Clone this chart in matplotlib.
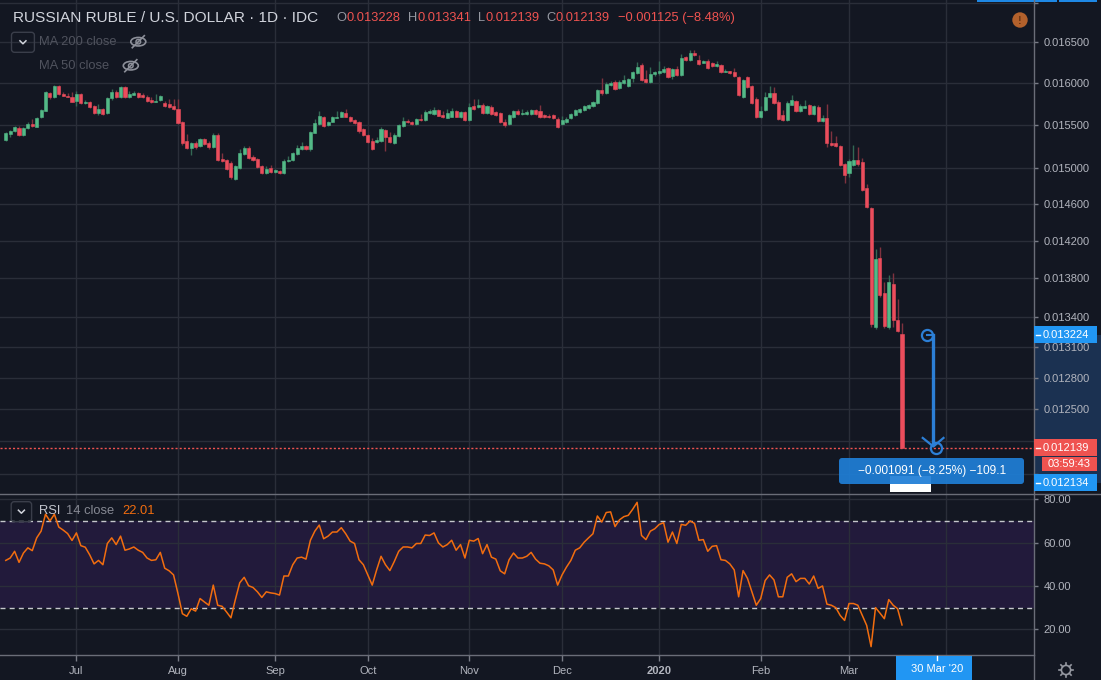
import matplotlib
matplotlib.use('Agg')
import matplotlib.pyplot as plt
from matplotlib.patches import Rectangle, FancyBboxPatch, Circle, Ellipse
from matplotlib.ticker import NullLocator, NullFormatter
import numpy as np
import pandas as pd

plt.rcParams['font.family'] = ['Liberation Sans', 'DejaVu Sans']

# daily bars, USD per RUB
dates = pd.bdate_range('2019-06-07', '2020-03-18')

opens = [0.015324, 0.015394, 0.015428, 0.015460, 0.015382, 0.015460, 0.015510, 0.015479, 0.015589, 0.015668,
         0.015882, 0.015835, 0.015964, 0.015867, 0.015846, 0.015835, 0.015787, 0.015867, 0.015763, 0.015771,
         0.015724, 0.015637, 0.015684, 0.015644, 0.015815, 0.015895, 0.015835, 0.015948, 0.015835, 0.015858,
         0.015882, 0.015858, 0.015835, 0.015795, 0.015775, 0.015795, 0.015756, 0.015748, 0.015724, 0.015684,
         0.015537, 0.015316, 0.015235, 0.015293, 0.015258, 0.015339, 0.015293, 0.015247, 0.015382, 0.015108,
         0.015093, 0.015063, 0.014882, 0.015000, 0.015162, 0.015235, 0.015124, 0.015108, 0.015025, 0.014943,
         0.015006, 0.014961, 0.014969, 0.014943, 0.015082, 0.015093, 0.015162, 0.015220, 0.015254, 0.015216,
         0.015409, 0.015510, 0.015597, 0.015498, 0.015537, 0.015585, 0.015597, 0.015644, 0.015597, 0.015557,
         0.015534, 0.015448, 0.015382, 0.015312, 0.015304, 0.015316, 0.015440, 0.015355, 0.015293, 0.015370,
         0.015487, 0.015545, 0.015534, 0.015514, 0.015573, 0.015561, 0.015637, 0.015629, 0.015676, 0.015617,
         0.015585, 0.015597, 0.015664, 0.015593, 0.015652, 0.015557, 0.015724, 0.015712, 0.015736, 0.015640,
         0.015712, 0.015652, 0.015640, 0.015534, 0.015514, 0.015597, 0.015668, 0.015633, 0.015633, 0.015633,
         0.015676, 0.015668, 0.015617, 0.015605, 0.015617, 0.015569, 0.015514, 0.015534, 0.015581, 0.015617,
         0.015652, 0.015676, 0.015700, 0.015724, 0.015759, 0.015915, 0.015879, 0.015976, 0.016012, 0.015940,
         0.016000, 0.015964, 0.016060, 0.016121, 0.016219, 0.016048, 0.016015, 0.016104, 0.016117, 0.016133,
         0.016178, 0.016085, 0.016166, 0.016101, 0.016317, 0.016284, 0.016371, 0.016280, 0.016248, 0.016268,
         0.016243, 0.016211, 0.016219, 0.016138, 0.016146, 0.016134, 0.016073, 0.015835, 0.016073, 0.015964,
         0.015807, 0.015597, 0.015676, 0.015835, 0.015879, 0.015771, 0.015617, 0.015557, 0.015739, 0.015783,
         0.015664, 0.015704, 0.015736, 0.015629, 0.015712, 0.015545, 0.015581, 0.015289, 0.015289, 0.015254,
         0.015047, 0.014950, 0.015036, 0.015093, 0.015070, 0.014778, 0.014555, 0.013301, 0.014014, 0.013648,
         0.013301, 0.013741, 0.013372, 0.013228]
highs = [0.015417, 0.015440, 0.015490, 0.015490, 0.015470, 0.015537, 0.015565, 0.015590, 0.015690, 0.015900,
         0.015890, 0.015980, 0.015980, 0.015895, 0.015875, 0.015887, 0.015907, 0.015880, 0.015790, 0.015780,
         0.015730, 0.015744, 0.015700, 0.015830, 0.015924, 0.015910, 0.015960, 0.015960, 0.015907, 0.015907,
         0.015890, 0.015882, 0.015850, 0.015835, 0.015867, 0.015860, 0.015787, 0.015803, 0.015803, 0.015803,
         0.015550, 0.015394, 0.015300, 0.015310, 0.015350, 0.015350, 0.015310, 0.015409, 0.015400, 0.015170,
         0.015100, 0.015080, 0.015040, 0.015216, 0.015254, 0.015250, 0.015150, 0.015120, 0.015040, 0.015025,
         0.015036, 0.014990, 0.014980, 0.015100, 0.015142, 0.015190, 0.015266, 0.015301, 0.015270, 0.015430,
         0.015565, 0.015664, 0.015610, 0.015550, 0.015600, 0.015668, 0.015660, 0.015684, 0.015610, 0.015570,
         0.015540, 0.015463, 0.015390, 0.015344, 0.015355, 0.015471, 0.015450, 0.015413, 0.015400, 0.015510,
         0.015589, 0.015565, 0.015540, 0.015580, 0.015629, 0.015670, 0.015684, 0.015708, 0.015690, 0.015664,
         0.015684, 0.015696, 0.015680, 0.015660, 0.015660, 0.015756, 0.015803, 0.015803, 0.015756, 0.015740,
         0.015730, 0.015668, 0.015650, 0.015565, 0.015630, 0.015680, 0.015684, 0.015684, 0.015670, 0.015690,
         0.015690, 0.015736, 0.015630, 0.015629, 0.015630, 0.015597, 0.015605, 0.015590, 0.015640, 0.015690,
         0.015704, 0.015740, 0.015748, 0.015780, 0.015930, 0.016060, 0.016015, 0.016020, 0.016030, 0.016030,
         0.016097, 0.016060, 0.016150, 0.016256, 0.016240, 0.016158, 0.016198, 0.016140, 0.016268, 0.016207,
         0.016190, 0.016180, 0.016207, 0.016355, 0.016330, 0.016404, 0.016404, 0.016347, 0.016280, 0.016292,
         0.016260, 0.016268, 0.016230, 0.016174, 0.016150, 0.016182, 0.016090, 0.016050, 0.016090, 0.015980,
         0.015835, 0.015724, 0.015891, 0.015964, 0.015948, 0.015795, 0.015676, 0.015783, 0.015855, 0.015800,
         0.015748, 0.015795, 0.015750, 0.015740, 0.015730, 0.015617, 0.015748, 0.015428, 0.015370, 0.015270,
         0.015060, 0.015100, 0.015266, 0.015239, 0.015112, 0.014822, 0.014570, 0.014110, 0.014131, 0.013762,
         0.013836, 0.013857, 0.013586, 0.013341]
lows = [0.015312, 0.015355, 0.015420, 0.015370, 0.015370, 0.015450, 0.015480, 0.015470, 0.015580, 0.015660,
        0.015803, 0.015820, 0.015850, 0.015840, 0.015830, 0.015770, 0.015724, 0.015750, 0.015750, 0.015700,
        0.015630, 0.015620, 0.015620, 0.015630, 0.015800, 0.015820, 0.015820, 0.015820, 0.015820, 0.015850,
        0.015820, 0.015820, 0.015770, 0.015760, 0.015770, 0.015780, 0.015710, 0.015700, 0.015680, 0.015510,
        0.015270, 0.015220, 0.015150, 0.015220, 0.015240, 0.015260, 0.015220, 0.015230, 0.015080, 0.015070,
        0.014980, 0.014880, 0.014870, 0.014990, 0.015150, 0.015100, 0.015080, 0.015000, 0.014930, 0.014930,
        0.014950, 0.014950, 0.014930, 0.014930, 0.015070, 0.015080, 0.015150, 0.015210, 0.015210, 0.015200,
        0.015400, 0.015500, 0.015480, 0.015490, 0.015530, 0.015580, 0.015590, 0.015590, 0.015530, 0.015510,
        0.015410, 0.015370, 0.015290, 0.015210, 0.015290, 0.015300, 0.015197, 0.015290, 0.015280, 0.015360,
        0.015470, 0.015520, 0.015500, 0.015500, 0.015550, 0.015550, 0.015630, 0.015620, 0.015600, 0.015580,
        0.015580, 0.015590, 0.015590, 0.015580, 0.015550, 0.015550, 0.015680, 0.015700, 0.015630, 0.015630,
        0.015620, 0.015610, 0.015520, 0.015480, 0.015500, 0.015580, 0.015620, 0.015620, 0.015620, 0.015620,
        0.015620, 0.015580, 0.015580, 0.015580, 0.015570, 0.015460, 0.015500, 0.015520, 0.015570, 0.015610,
        0.015640, 0.015660, 0.015690, 0.015710, 0.015750, 0.015860, 0.015870, 0.015960, 0.015910, 0.015930,
        0.015990, 0.015950, 0.016015, 0.016110, 0.016020, 0.016000, 0.016000, 0.016090, 0.016100, 0.016120,
        0.016060, 0.016052, 0.016090, 0.016090, 0.016270, 0.016270, 0.016330, 0.016220, 0.016240, 0.016170,
        0.016190, 0.016200, 0.016120, 0.016130, 0.016110, 0.016070, 0.015840, 0.015820, 0.015940, 0.015750,
        0.015580, 0.015580, 0.015660, 0.015820, 0.015750, 0.015560, 0.015540, 0.015540, 0.015730, 0.015650,
        0.015652, 0.015700, 0.015620, 0.015620, 0.015530, 0.015534, 0.015247, 0.015250, 0.015240, 0.015020,
        0.014837, 0.014905, 0.015020, 0.015030, 0.014740, 0.014550, 0.013300, 0.013280, 0.013610, 0.013291,
        0.013280, 0.013301, 0.013250, 0.012139]
closes = [0.015401, 0.015428, 0.015479, 0.015382, 0.015460, 0.015510, 0.015490, 0.015577, 0.015676, 0.015887,
          0.015835, 0.015964, 0.015867, 0.015846, 0.015835, 0.015775, 0.015867, 0.015763, 0.015775, 0.015716,
          0.015644, 0.015688, 0.015629, 0.015819, 0.015895, 0.015835, 0.015948, 0.015835, 0.015867, 0.015882,
          0.015835, 0.015835, 0.015787, 0.015775, 0.015787, 0.015843, 0.015728, 0.015716, 0.015692, 0.015526,
          0.015286, 0.015235, 0.015286, 0.015239, 0.015339, 0.015278, 0.015239, 0.015386, 0.015093, 0.015085,
          0.014995, 0.014897, 0.015025, 0.015177, 0.015235, 0.015116, 0.015093, 0.015017, 0.014943, 0.014995,
          0.014961, 0.014980, 0.014943, 0.015085, 0.015093, 0.015177, 0.015235, 0.015254, 0.015220, 0.015417,
          0.015526, 0.015605, 0.015490, 0.015537, 0.015589, 0.015597, 0.015649, 0.015597, 0.015545, 0.015526,
          0.015428, 0.015382, 0.015304, 0.015220, 0.015324, 0.015452, 0.015362, 0.015304, 0.015382, 0.015498,
          0.015549, 0.015534, 0.015514, 0.015569, 0.015561, 0.015656, 0.015660, 0.015676, 0.015608, 0.015593,
          0.015644, 0.015668, 0.015597, 0.015652, 0.015557, 0.015716, 0.015688, 0.015736, 0.015640, 0.015724,
          0.015629, 0.015621, 0.015537, 0.015498, 0.015617, 0.015668, 0.015633, 0.015640, 0.015656, 0.015676,
          0.015629, 0.015593, 0.015593, 0.015593, 0.015581, 0.015475, 0.015557, 0.015573, 0.015629, 0.015676,
          0.015684, 0.015724, 0.015736, 0.015771, 0.015915, 0.015875, 0.015991, 0.016003, 0.015927, 0.016015,
          0.016036, 0.016044, 0.016133, 0.016194, 0.016036, 0.016015, 0.016109, 0.016129, 0.016146, 0.016170,
          0.016073, 0.016166, 0.016101, 0.016305, 0.016280, 0.016363, 0.016343, 0.016231, 0.016268, 0.016186,
          0.016207, 0.016235, 0.016134, 0.016146, 0.016121, 0.016085, 0.015855, 0.016036, 0.015956, 0.015763,
          0.015597, 0.015664, 0.015831, 0.015882, 0.015763, 0.015573, 0.015557, 0.015759, 0.015795, 0.015668,
          0.015724, 0.015724, 0.015629, 0.015724, 0.015545, 0.015581, 0.015293, 0.015266, 0.015254, 0.015036,
          0.014923, 0.015085, 0.015093, 0.015047, 0.014755, 0.014569, 0.013331, 0.014003, 0.013627, 0.013311,
          0.013762, 0.013372, 0.013264, 0.012139]

rsi = [51.8, 52.9, 56.0, 50.9, 55.2, 57.6, 56.3, 62.2, 65.3, 73.1,
       70.0, 73.1, 67.2, 65.8, 64.2, 61.0, 64.5, 58.6, 57.9, 54.4,
       50.2, 51.8, 49.8, 59.6, 62.2, 59.1, 63.0, 56.5, 57.1, 58.0,
       56.5, 55.5, 52.9, 51.8, 52.1, 55.5, 48.2, 47.0, 45.1, 36.5,
       27.2, 26.0, 29.5, 28.4, 34.2, 32.6, 31.1, 40.4, 31.1, 30.6,
       28.0, 25.3, 33.7, 41.5, 44.0, 40.1, 39.3, 37.3, 34.7, 37.3,
       36.8, 36.5, 35.8, 44.6, 44.6, 49.8, 52.9, 53.3, 52.4, 61.1,
       65.3, 68.1, 61.8, 63.0, 64.9, 64.9, 66.9, 64.1, 60.7, 59.6,
       52.1, 49.8, 45.1, 40.4, 47.4, 53.7, 49.8, 47.1, 51.3, 56.0,
       58.0, 58.0, 57.6, 59.6, 59.6, 63.5, 63.3, 64.5, 59.9, 58.0,
       59.1, 61.1, 56.5, 59.1, 52.9, 61.1, 60.7, 61.9, 54.9, 59.1,
       53.3, 52.4, 47.0, 45.6, 52.1, 55.2, 52.9, 52.9, 53.7, 55.5,
       52.4, 50.5, 50.2, 49.3, 47.4, 40.4, 45.1, 48.7, 51.8, 56.5,
       57.6, 60.2, 62.2, 64.1, 72.3, 69.5, 73.9, 74.2, 67.4, 70.5,
       72.0, 72.6, 75.4, 78.6, 63.3, 61.4, 65.3, 66.4, 68.4, 69.2,
       60.2, 64.9, 59.6, 68.4, 68.0, 70.0, 68.9, 61.1, 61.4, 56.0,
       58.3, 58.6, 52.1, 51.8, 50.2, 47.4, 35.0, 47.1, 43.5, 37.3,
       31.1, 34.2, 42.5, 45.1, 42.8, 35.0, 35.0, 44.0, 45.6, 42.0,
       43.5, 43.5, 40.9, 44.6, 38.9, 40.0, 31.6, 31.1, 30.0, 26.4,
       24.1, 31.9, 31.9, 31.1, 26.4, 21.8, 12.0, 30.0, 27.5, 24.9,
       33.7, 31.1, 29.5, 22.01]

price_ticks = [0.0119, 0.0122, 0.0125, 0.0128, 0.0131, 0.0134, 0.0138, 0.0142,
               0.0146, 0.0150, 0.0155, 0.0160, 0.0165, 0.0170]
hidden_ticks = (0.0119, 0.0122, 0.0170)
rsi_ticks = [20, 40, 60, 80]
measure_top, measure_bottom = 0.013224, 0.012134
measure_text = '\u22120.001091 (\u22128.25%) \u2212109.1'
change_text = '\u22120.001125 (\u22128.48%)'
timer_text = '03:59:43'
cross_date = "30 Mar '20"

BG = '#131722'
GRID = '#2a2e39'
SEP = '#6a6d78'
TXT = '#b2b5be'
UP, DN = '#53b987', '#eb4d5c'
UPW, DNW = '#336854', '#7f323f'
BLUE = '#2196f3'
RED = '#ef5350'
ORANGE = '#f26d0f'

W, H = 1101, 680
fig = plt.figure(figsize=(W / 100, H / 100), dpi=100, facecolor=BG)


def box(x0, y0, x1, y1):
    return [x0 / W, 1 - y1 / H, (x1 - x0) / W, (y1 - y0) / H]


ax = fig.add_axes(box(0, 0, 1034, 494.3))
rax = fig.add_axes(box(0, 494.3, 1034, 655.3))
under = fig.add_axes([0, 0, 1, 1], zorder=-1)
over = fig.add_axes([0, 0, 1, 1], zorder=10)
for a in (under, over):
    a.set_xlim(0, W)
    a.set_ylim(H, 0)
    a.axis('off')

# month starts (incl. April beyond the last bar)
alld = dates.append(pd.bdate_range('2020-03-19', '2020-04-30'))
mstart = [i for i in range(1, len(alld)) if alld[i].month != alld[i - 1].month]
mlabels = ['2020' if alld[i].month == 1 else ('' if alld[i].month == 4 else alld[i].strftime('%b'))
           for i in mstart]

idx = np.arange(len(dates))
o, h, l, c = map(np.array, (opens, highs, lows, closes))
up = c >= o

for a in (ax, rax):
    a.set_facecolor(BG)
    for s in a.spines.values():
        s.set_visible(False)
    a.set_xlim(-1.31, 232.9)
    a.set_xticks(mstart)
    a.grid(True, color=GRID, lw=1)

# candles
ax.set_yscale('log')
ax.set_ylim(0.011718, 0.017037)
ax.vlines(idx, l, h, colors=[UPW if u else DNW for u in up], lw=1, zorder=2)
bcol = [UP if u else DN for u in up]
ax.bar(idx, np.abs(c - o), bottom=np.minimum(o, c), width=0.7, color=bcol,
       edgecolor=bcol, linewidth=0.4, zorder=3)
ax.axhline(c[-1], color=RED, lw=1, ls=(0, (1.5, 1.5)), zorder=2.5)

ax.yaxis.tick_right()
ax.set_yticks(price_ticks)
ax.set_yticklabels(['' if p in hidden_ticks else f'{p:.6f}' for p in price_ticks])
ax.yaxis.set_minor_locator(NullLocator())
ax.yaxis.set_minor_formatter(NullFormatter())
ax.tick_params(axis='y', length=3, width=1, color='#787b86', pad=3.8,
               labelsize=8, labelcolor=TXT)
ax.tick_params(axis='x', length=0, labelbottom=False)

# measure tool
mc = '#2c7fd6'
ax.plot([210.1, 210.1], [measure_top, 0.012175], color=mc, lw=2.4, zorder=6)
ax.plot([208.7, 210.1], [measure_top, measure_top], color=mc, lw=1.5, zorder=6)
ax.plot([207.7, 210.1, 212.4], [0.012229, 0.012150, 0.012229], color=mc, lw=1.6, zorder=6)
ax.plot([208.7, 210.8], [measure_top, measure_bottom], ls='none', marker='o', ms=8,
        mfc='none', mec=mc, mew=1.6, zorder=7)

# RSI pane
rax.set_ylim(8.0, 82.31)
rax.axhspan(30, 70, color='#221a3b', lw=0, zorder=0.2)
for lvl in (70, 30):
    rax.axhline(lvl, color='#c5c7cc', lw=1, ls=(0, (3.6, 3.0)), zorder=1.8)
rax.plot(idx, rsi, color=ORANGE, lw=1.1, zorder=3)
rax.yaxis.tick_right()
rax.set_yticks(rsi_ticks)
rax.set_yticklabels([f'{v:.2f}' for v in rsi_ticks])
rax.tick_params(axis='y', length=3, width=1, color='#787b86', pad=3.8,
                labelsize=8, labelcolor=TXT)
rax.set_xticklabels(mlabels)
rax.tick_params(axis='x', length=4, width=1, color='#787b86', pad=3.5,
                labelsize=8, labelcolor=TXT)
for t in rax.get_xticklabels():
    if t.get_text() == '2020':
        t.set_fontweight('bold')


def py(p):
    return H - ax.transData.transform((0, p))[1]


# separators
over.plot([0, W], [494.3, 494.3], color=SEP, lw=1)
over.plot([1034, 1034], [0, H], color=SEP, lw=1)
over.plot([0, 1034], [655.3, 655.3], color=SEP, lw=1)

# price scale highlight + tags
ytop = py(measure_top)
under.add_patch(Rectangle((1034, ytop), 67, 482.5 - ytop, fc='#1b3151', lw=0))


def tag(yc, text, fc, x0=1034, x1=1097, hh=16.5):
    over.add_patch(Rectangle((x0, yc - hh / 2), x1 - x0, hh, fc=fc, lw=0, zorder=3))
    over.plot([1035.5, 1039.5], [yc, yc], color='white', lw=1, zorder=4)
    over.text(1043, yc, text, color='white', fontsize=8, va='center', ha='left', zorder=4)


tag(ytop, f'{measure_top:.6f}', BLUE)
tag(py(c[-1]), f'{c[-1]:.6f}', RED)
over.add_patch(Rectangle((1042, 457), 55, 13.5, fc=RED, lw=0, zorder=3))
over.text(1069.5, 463.8, timer_text, color='white', fontsize=8, va='center', ha='center', zorder=4)
tag(482.5, f'{measure_bottom:.6f}', BLUE)

# measure label
over.add_patch(Rectangle((890, 475.5), 41, 16.5, fc='white', lw=0, zorder=3))
over.add_patch(FancyBboxPatch((839, 458), 185, 26, boxstyle='round,pad=0,rounding_size=3',
                              fc='#1f7ed6', ec='none', alpha=0.93, zorder=4))
over.text(932, 471, measure_text, color='white', fontsize=8.6, va='center', ha='center', zorder=5)

# crosshair date
over.add_patch(Rectangle((896, 655.8), 76, 24.2, fc=BLUE, lw=0, zorder=3))
over.plot([937.4, 937.4], [655.8, 660], color='white', lw=1, zorder=4)
over.text(937.5, 668.5, cross_date, color='white', fontsize=8, va='center', ha='center', zorder=4)

# header
over.text(12.6, 17.5, 'RUSSIAN RUBLE / U.S. DOLLAR \u00b7 1D \u00b7 IDC', color='#d1d4dc',
          fontsize=11.1, va='center', ha='left')
for letter, lx, val, vx in [('O', 336, opens[-1], 346.4), ('H', 407.6, highs[-1], 417.1),
                            ('L', 477.6, lows[-1], 485.3), ('C', 546.5, closes[-1], 555.7)]:
    over.text(lx, 18.3, letter, color='#9598a1', fontsize=9.3, va='center', ha='left')
    over.text(vx, 18.3, f'{val:.6f}', color=RED, fontsize=9.3, va='center', ha='left')
over.text(618, 18.3, change_text, color=RED, fontsize=9.3, va='center', ha='left')


def chevron_box(x0, y0, x1, y1):
    over.add_patch(FancyBboxPatch((x0, y0), x1 - x0, y1 - y0, boxstyle='round,pad=0,rounding_size=3',
                                  fc='none', ec='#3a3e4a', lw=1))
    cx, cy = (x0 + x1) / 2, (y0 + y1) / 2
    over.plot([cx - 3, cx, cx + 3], [cy - 1.5, cy + 1.5, cy - 1.5], color='#d1d4dc', lw=1.1)


def eye(cx, cy):
    col = '#8c8f99'
    over.add_patch(Ellipse((cx, cy), 15, 8.5, fill=False, ec=col, lw=1.2))
    over.add_patch(Circle((cx, cy), 2.3, fill=False, ec=col, lw=1.1))
    over.plot([cx - 6, cx + 6], [cy + 6, cy - 6], color=col, lw=1.2)


chevron_box(11.5, 32.3, 34.4, 52.3)
over.text(39.4, 41.7, 'MA 200 close', color='#50535e', fontsize=9.3, va='center', ha='left')
eye(138.3, 41.7)
over.text(39.4, 65.7, 'MA 50 close', color='#50535e', fontsize=9.3, va='center', ha='left')
eye(130.8, 65.7)

chevron_box(11.2, 501.7, 31.6, 521.7)
over.text(39.3, 510.7, 'RSI', color='#c3c6ce', fontsize=9.3, va='center', ha='left')
over.text(65.6, 510.7, '14 close', color='#868993', fontsize=9.3, va='center', ha='left')
over.text(122, 510.7, f'{rsi[-1]:.2f}', color=ORANGE, fontsize=9.3, va='center', ha='left')

# alert badge and top strips
over.add_patch(Circle((1020, 20), 7.7, fc='#b3612c', ec='none'))
over.text(1020, 20.5, '!', color='#6b3412', fontsize=8, fontweight='bold', va='center', ha='center')
over.add_patch(Rectangle((977, 0), 80, 1.6, fc='#1e88e5', lw=0))
over.add_patch(Rectangle((1059, 0), 38, 1.6, fc='#1e88e5', lw=0))

# settings icon
gc = '#9598a1'
over.add_patch(Circle((1066, 670), 4.6, fill=False, ec=gc, lw=1.2))
for ang in np.linspace(0, 2 * np.pi, 8, endpoint=False):
    over.plot([1066 + 4.6 * np.cos(ang), 1066 + 7.2 * np.cos(ang)],
              [670 + 4.6 * np.sin(ang), 670 + 7.2 * np.sin(ang)], color=gc, lw=1.2)

fig.savefig('out.png', dpi=100, facecolor=BG)
